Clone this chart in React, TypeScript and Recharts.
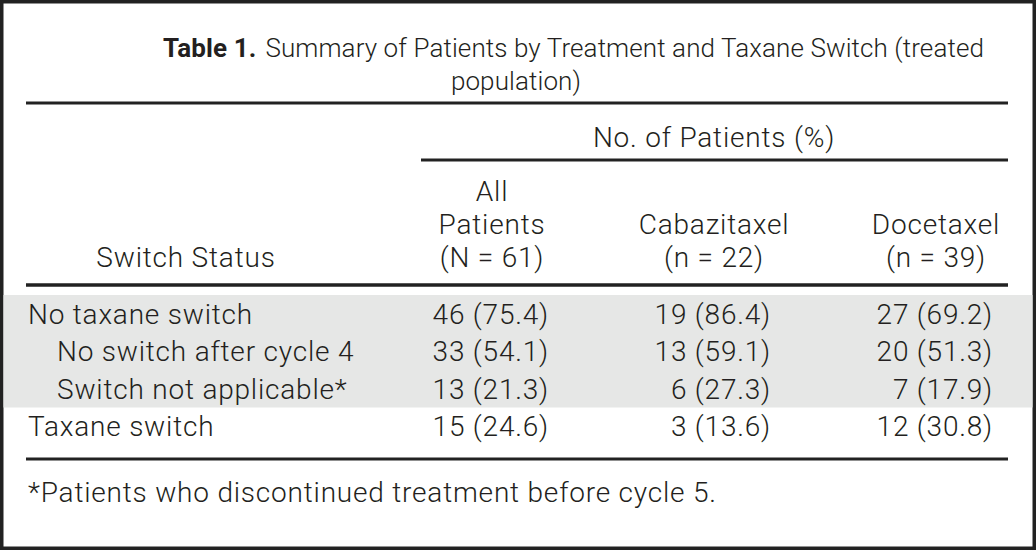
import React from "react";
import { ScatterChart, Scatter, XAxis, YAxis, ReferenceArea, Customized } from "recharts";

// table content
const switchStatus = ["No taxane switch", "No switch after cycle 4", "Switch not applicable*", "Taxane switch"];
const subRows = ["No switch after cycle 4", "Switch not applicable*"];
const treatments = ["All Patients", "Cabazitaxel", "Docetaxel"];
const groupSizes = ["N = 61", "n = 22", "n = 39"];

const allPatientsN = [46, 33, 13, 15];
const allPatientsPct = [75.4, 54.1, 21.3, 24.6];
const cabazitaxelN = [19, 13, 6, 3];
const cabazitaxelPct = [86.4, 59.1, 27.3, 13.6];
const docetaxelN = [27, 20, 7, 12];
const docetaxelPct = [69.2, 51.3, 17.9, 30.8];

const counts = [allPatientsN, cabazitaxelN, docetaxelN];
const percents = [allPatientsPct, cabazitaxelPct, docetaxelPct];

const cells = treatments.flatMap((t, c) =>
  switchStatus.map((s, r) => ({ treatment: t, status: s, n: counts[c][r], pct: percents[c][r] }))
);

const INK = "#231f20";
const FONT = "Roboto, 'Liberation Sans', sans-serif";
const textStyle = { fontFamily: FONT, fontWeight: 300, fontSize: 28, letterSpacing: 0.8, fill: INK };
const titleStyle = { ...textStyle, fontSize: 26, letterSpacing: 0.1 };

const CellText = (props: any) => {
  const { cx, cy, payload } = props;
  return (
    <text x={cx + 111} y={cy + 10} textAnchor="end" style={textStyle}>
      {`${payload.n} (${payload.pct.toFixed(1)})`}
    </text>
  );
};

const HeaderTick = (props: any) => {
  const { x, payload, index } = props;
  const lines = [...String(payload.value).split(" "), `(${groupSizes[index]})`];
  return (
    <g>
      {lines.map((l, i) => (
        <text key={i} x={x + 54} y={267 - (lines.length - 1 - i) * 33} textAnchor="middle" style={textStyle}>
          {l}
        </text>
      ))}
    </g>
  );
};

const StatusTick = (props: any) => {
  const { y, payload } = props;
  const left = subRows.includes(payload.value) ? 57 : 28;
  return (
    <text x={left} y={y + 10} textAnchor="start" style={textStyle}>
      {payload.value}
    </text>
  );
};

const Decor = () => (
  <g>
    <rect x={1.75} y={1.75} width={1032.5} height={546.5} fill="none" stroke="#222" strokeWidth={3.5} />
    <text x={163} y={57} style={titleStyle}>
      <tspan style={{ fontWeight: 700 }}>Table 1.</tspan>
      <tspan dx={9}>Summary of Patients by Treatment and Taxane Switch (treated</tspan>
    </text>
    <text x={516} y={90} textAnchor="middle" style={titleStyle}>population)</text>
    <line x1={26} x2={1008} y1={103} y2={103} stroke="#222" strokeWidth={3} />
    <text x={714} y={147} textAnchor="middle" style={textStyle}>No. of Patients (%)</text>
    <line x1={421} x2={1008} y1={160} y2={160} stroke="#222" strokeWidth={3} />
    <text x={186} y={267} textAnchor="middle" style={textStyle}>Switch Status</text>
    <line x1={26} x2={1008} y1={285} y2={285} stroke="#222" strokeWidth={3.5} />
    <line x1={26} x2={1008} y1={459} y2={459} stroke="#222" strokeWidth={3} />
    <text x={28} y={502} style={textStyle}>*Patients who discontinued treatment before cycle 5.</text>
  </g>
);

const ShadeBand = (props: any) => (
  <rect x={3.5} y={props.y} width={1029} height={props.height} fill="#e6e7e6" />
);

export default function App() {
  return (
    <div style={{ position: "absolute", left: 0, top: 0, width: 1036, height: 550, background: "#fff" }}>
      <ScatterChart width={1036} height={550} margin={{ top: 0, right: 43, bottom: 105, left: 0 }}>
        <ReferenceArea
          y1={switchStatus[0]}
          y2={switchStatus[2]}
          shape={ShadeBand}
          ifOverflow="visible"
        />
        <XAxis
          type="category"
          dataKey="treatment"
          orientation="top"
          height={295}
          allowDuplicatedCategory={false}
          axisLine={false}
          tickLine={false}
          interval={0}
          tick={HeaderTick}
        />
        <YAxis
          type="category"
          dataKey="status"
          width={327}
          allowDuplicatedCategory={false}
          axisLine={false}
          tickLine={false}
          interval={0}
          reversed
          tick={StatusTick}
        />
        <Scatter data={cells} shape={CellText} isAnimationActive={false} />
        <Customized component={Decor} />
      </ScatterChart>
    </div>
  );
}
